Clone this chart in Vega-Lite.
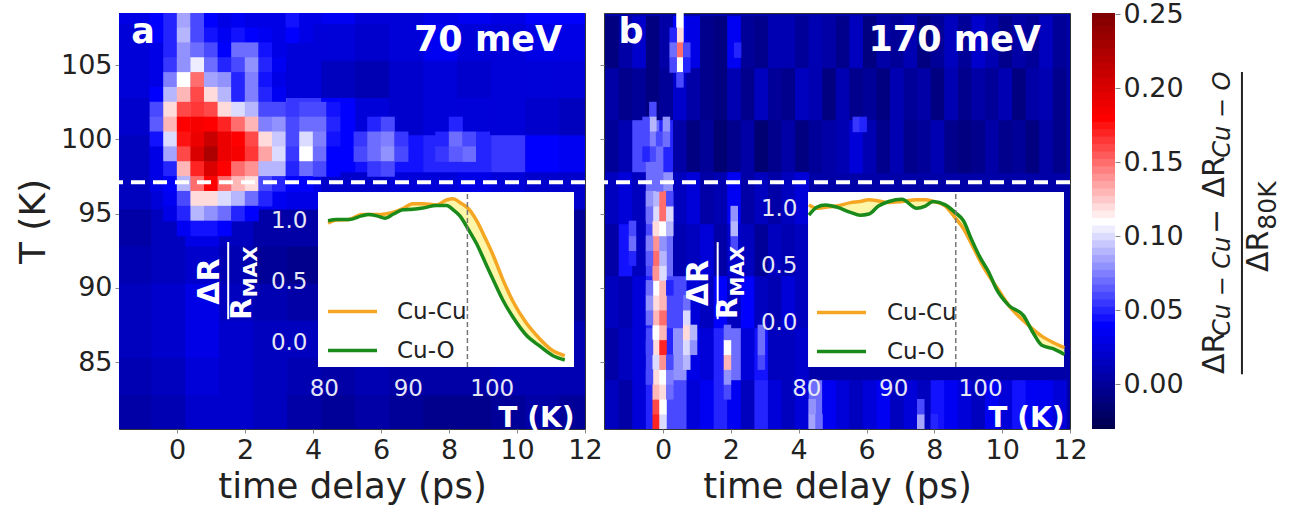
{"$schema":"https://vega.github.io/schema/vega-lite/v6.json","padding":{"left":14,"top":0,"right":0,"bottom":0},"background":"white","bounds":"flush","spacing":19,
"config":{"font":"DejaVu Sans","axis":{"labelFont":"DejaVu Sans","titleFont":"DejaVu Sans","grid":false,"titleFontWeight":"normal"},"view":{"stroke":null}},
"resolve":{"scale":{"stroke":"independent","color":"independent"},"legend":{"stroke":"independent"}},
"datasets":{
"coarseA":[
{"t":-1.25,"T":108.5,"v":0.03},{"t":-0.25,"T":108.5,"v":0.035},{"t":0.75,"T":108.5,"v":0.05},{"t":1.75,"T":108.5,"v":0.035},{"t":2.75,"T":108.5,"v":0.03},{"t":3.75,"T":108.5,"v":0.03},{"t":4.75,"T":108.5,"v":0.035},{"t":5.75,"T":108.5,"v":0.025},{"t":6.75,"T":108.5,"v":0.025},{"t":7.75,"T":108.5,"v":0.03},{"t":8.75,"T":108.5,"v":0.035},{"t":9.75,"T":108.5,"v":0.03},{"t":10.75,"T":108.5,"v":0.04},{"t":11.75,"T":108.5,"v":0.04},
{"t":-1.25,"T":106.5,"v":0.025},{"t":-0.25,"T":106.5,"v":0.025},{"t":0.75,"T":106.5,"v":0.05},{"t":1.75,"T":106.5,"v":0.05},{"t":2.75,"T":106.5,"v":0.03},{"t":3.75,"T":106.5,"v":0.025},{"t":4.75,"T":106.5,"v":0.025},{"t":5.75,"T":106.5,"v":0.02},{"t":6.75,"T":106.5,"v":0.025},{"t":7.75,"T":106.5,"v":0.035},{"t":8.75,"T":106.5,"v":0.025},{"t":9.75,"T":106.5,"v":0.025},{"t":10.75,"T":106.5,"v":0.03},{"t":11.75,"T":106.5,"v":0.03},
{"t":-1.25,"T":104,"v":0.025},{"t":-0.25,"T":104,"v":0.02},{"t":0.75,"T":104,"v":0.06},{"t":1.75,"T":104,"v":0.05},{"t":2.75,"T":104,"v":0.025},{"t":3.75,"T":104,"v":0.025},{"t":4.75,"T":104,"v":0.015},{"t":5.75,"T":104,"v":0.01},{"t":6.75,"T":104,"v":0.02},{"t":7.75,"T":104,"v":0.025},{"t":8.75,"T":104,"v":0.02},{"t":9.75,"T":104,"v":0.025},{"t":10.75,"T":104,"v":0.025},{"t":11.75,"T":104,"v":0.025},
{"t":-1.25,"T":101.5,"v":0.02},{"t":-0.25,"T":101.5,"v":0.04},{"t":0.75,"T":101.5,"v":0.1},{"t":1.75,"T":101.5,"v":0.1},{"t":2.75,"T":101.5,"v":0.06},{"t":3.75,"T":101.5,"v":0.055},{"t":4.75,"T":101.5,"v":0.04},{"t":5.75,"T":101.5,"v":0.025},{"t":6.75,"T":101.5,"v":0.02},{"t":7.75,"T":101.5,"v":0.025},{"t":8.75,"T":101.5,"v":0.025},{"t":9.75,"T":101.5,"v":0.025},{"t":10.75,"T":101.5,"v":0.02},{"t":11.75,"T":101.5,"v":0.015},
{"t":-1.25,"T":99,"v":0.015},{"t":-0.25,"T":99,"v":0.04},{"t":0.75,"T":99,"v":0.15},{"t":1.75,"T":99,"v":0.14},{"t":2.75,"T":99,"v":0.07},{"t":3.75,"T":99,"v":0.06},{"t":4.75,"T":99,"v":0.04},{"t":5.75,"T":99,"v":0.045},{"t":6.75,"T":99,"v":0.045},{"t":7.75,"T":99,"v":0.05},{"t":8.75,"T":99,"v":0.05},{"t":9.75,"T":99,"v":0.055},{"t":10.75,"T":99,"v":0.04},{"t":11.75,"T":99,"v":0.035},
{"t":-1.25,"T":96.5,"v":0.015},{"t":-0.25,"T":96.5,"v":0.025},{"t":0.75,"T":96.5,"v":0.07},{"t":1.75,"T":96.5,"v":0.06},{"t":2.75,"T":96.5,"v":0.035},{"t":3.75,"T":96.5,"v":0.03},{"t":4.75,"T":96.5,"v":0.02},{"t":5.75,"T":96.5,"v":0.02},{"t":6.75,"T":96.5,"v":0.025},{"t":7.75,"T":96.5,"v":0.025},{"t":8.75,"T":96.5,"v":0.03},{"t":9.75,"T":96.5,"v":0.025},{"t":10.75,"T":96.5,"v":0.02},{"t":11.75,"T":96.5,"v":0.02},
{"t":-1.25,"T":94,"v":0.005},{"t":-0.25,"T":94,"v":0.015},{"t":0.75,"T":94,"v":0.03},{"t":1.75,"T":94,"v":0.015},{"t":2.75,"T":94,"v":0.005},{"t":3.75,"T":94,"v":0.005},{"t":4.75,"T":94,"v":0.0},{"t":5.75,"T":94,"v":0.0},{"t":6.75,"T":94,"v":0.005},{"t":7.75,"T":94,"v":0.01},{"t":8.75,"T":94,"v":0.005},{"t":9.75,"T":94,"v":0.005},{"t":10.75,"T":94,"v":0.005},{"t":11.75,"T":94,"v":0.0},
{"t":-1.25,"T":91.5,"v":0.01},{"t":-0.25,"T":91.5,"v":0.015},{"t":0.75,"T":91.5,"v":0.02},{"t":1.75,"T":91.5,"v":0.01},{"t":2.75,"T":91.5,"v":0.0},{"t":3.75,"T":91.5,"v":-0.005},{"t":4.75,"T":91.5,"v":-0.005},{"t":5.75,"T":91.5,"v":0.0},{"t":6.75,"T":91.5,"v":0.0},{"t":7.75,"T":91.5,"v":0.0},{"t":8.75,"T":91.5,"v":0.005},{"t":9.75,"T":91.5,"v":0.005},{"t":10.75,"T":91.5,"v":0.0},{"t":11.75,"T":91.5,"v":0.0},
{"t":-1.25,"T":89,"v":0.015},{"t":-0.25,"T":89,"v":0.02},{"t":0.75,"T":89,"v":0.03},{"t":1.75,"T":89,"v":0.015},{"t":2.75,"T":89,"v":0.01},{"t":3.75,"T":89,"v":0.005},{"t":4.75,"T":89,"v":0.005},{"t":5.75,"T":89,"v":0.0},{"t":6.75,"T":89,"v":0.0},{"t":7.75,"T":89,"v":0.0},{"t":8.75,"T":89,"v":0.0},{"t":9.75,"T":89,"v":0.0},{"t":10.75,"T":89,"v":0.0},{"t":11.75,"T":89,"v":0.0},
{"t":-1.25,"T":86.5,"v":0.015},{"t":-0.25,"T":86.5,"v":0.02},{"t":0.75,"T":86.5,"v":0.03},{"t":1.75,"T":86.5,"v":0.02},{"t":2.75,"T":86.5,"v":0.015},{"t":3.75,"T":86.5,"v":0.015},{"t":4.75,"T":86.5,"v":0.01},{"t":5.75,"T":86.5,"v":0.01},{"t":6.75,"T":86.5,"v":0.01},{"t":7.75,"T":86.5,"v":0.01},{"t":8.75,"T":86.5,"v":0.01},{"t":9.75,"T":86.5,"v":0.01},{"t":10.75,"T":86.5,"v":0.01},{"t":11.75,"T":86.5,"v":0.01},
{"t":-1.25,"T":84,"v":0.01},{"t":-0.25,"T":84,"v":0.015},{"t":0.75,"T":84,"v":0.025},{"t":1.75,"T":84,"v":0.02},{"t":2.75,"T":84,"v":0.015},{"t":3.75,"T":84,"v":0.01},{"t":4.75,"T":84,"v":0.005},{"t":5.75,"T":84,"v":0.01},{"t":6.75,"T":84,"v":0.005},{"t":7.75,"T":84,"v":0.005},{"t":8.75,"T":84,"v":0.005},{"t":9.75,"T":84,"v":0.01},{"t":10.75,"T":84,"v":0.01},{"t":11.75,"T":84,"v":0.01},
{"t":-1.25,"T":81.5,"v":0.005},{"t":-0.25,"T":81.5,"v":0.01},{"t":0.75,"T":81.5,"v":0.02},{"t":1.75,"T":81.5,"v":0.02},{"t":2.75,"T":81.5,"v":0.015},{"t":3.75,"T":81.5,"v":0.005},{"t":4.75,"T":81.5,"v":0.0},{"t":5.75,"T":81.5,"v":0.005},{"t":6.75,"T":81.5,"v":0.0},{"t":7.75,"T":81.5,"v":-0.005},{"t":8.75,"T":81.5,"v":-0.005},{"t":9.75,"T":81.5,"v":0.0},{"t":10.75,"T":81.5,"v":0.005},{"t":11.75,"T":81.5,"v":0.0}
],
"fineA":[
{"t":-0.6,"T":108,"v":0.04},{"t":-0.2,"T":108,"v":0.05},{"t":0.2,"T":108,"v":0.085},{"t":0.6,"T":108,"v":0.06},{"t":1,"T":108,"v":0.04},{"t":1.4,"T":108,"v":0.03},{"t":1.8,"T":108,"v":0.035},{"t":2.2,"T":108,"v":0.03},{"t":2.6,"T":108,"v":0.03},{"t":3,"T":108,"v":0.03},{"t":3.4,"T":108,"v":0.045},{"t":3.8,"T":108,"v":0.03},
{"t":-0.6,"T":107,"v":0.04},{"t":-0.2,"T":107,"v":0.05},{"t":0.2,"T":107,"v":0.09},{"t":0.6,"T":107,"v":0.06},{"t":1,"T":107,"v":0.045},{"t":1.4,"T":107,"v":0.035},{"t":1.8,"T":107,"v":0.045},{"t":2.2,"T":107,"v":0.04},{"t":2.6,"T":107,"v":0.035},{"t":3,"T":107,"v":0.03},{"t":3.4,"T":107,"v":0.04},{"t":3.8,"T":107,"v":0.03},
{"t":-0.6,"T":106,"v":0.03},{"t":-0.2,"T":106,"v":0.05},{"t":0.2,"T":106,"v":0.08},{"t":0.6,"T":106,"v":0.07},{"t":1,"T":106,"v":0.06},{"t":1.4,"T":106,"v":0.04},{"t":1.8,"T":106,"v":0.07},{"t":2.2,"T":106,"v":0.07},{"t":2.6,"T":106,"v":0.045},{"t":3,"T":106,"v":0.03},
{"t":-0.6,"T":105,"v":0.03},{"t":-0.2,"T":105,"v":0.055},{"t":0.2,"T":105,"v":0.08},{"t":0.6,"T":105,"v":0.105},{"t":1,"T":105,"v":0.07},{"t":1.4,"T":105,"v":0.05},{"t":1.8,"T":105,"v":0.06},{"t":2.2,"T":105,"v":0.08},{"t":2.6,"T":105,"v":0.05},{"t":3,"T":105,"v":0.035},
{"t":-0.6,"T":104,"v":0.03},{"t":-0.2,"T":104,"v":0.075},{"t":0.2,"T":104,"v":0.11},{"t":0.6,"T":104,"v":0.15},{"t":1,"T":104,"v":0.085},{"t":1.4,"T":104,"v":0.08},{"t":1.8,"T":104,"v":0.05},{"t":2.2,"T":104,"v":0.075},{"t":2.6,"T":104,"v":0.045},{"t":3,"T":104,"v":0.03},
{"t":-0.6,"T":103,"v":0.04},{"t":-0.2,"T":103,"v":0.09},{"t":0.2,"T":103,"v":0.13},{"t":0.6,"T":103,"v":0.16},{"t":1,"T":103,"v":0.12},{"t":1.4,"T":103,"v":0.09},{"t":1.8,"T":103,"v":0.05},{"t":2.2,"T":103,"v":0.075},{"t":2.6,"T":103,"v":0.05},{"t":3,"T":103,"v":0.035},
{"t":-0.6,"T":102,"v":0.06},{"t":-0.2,"T":102,"v":0.12},{"t":0.2,"T":102,"v":0.16},{"t":0.6,"T":102,"v":0.165},{"t":1,"T":102,"v":0.16},{"t":1.4,"T":102,"v":0.12},{"t":1.8,"T":102,"v":0.1},{"t":2.2,"T":102,"v":0.09},{"t":2.6,"T":102,"v":0.06},{"t":3,"T":102,"v":0.06},{"t":3.4,"T":102,"v":0.055},{"t":3.8,"T":102,"v":0.06},{"t":4.2,"T":102,"v":0.06},{"t":4.6,"T":102,"v":0.045},
{"t":-0.6,"T":101,"v":0.065},{"t":-0.2,"T":101,"v":0.13},{"t":0.2,"T":101,"v":0.18},{"t":0.6,"T":101,"v":0.185},{"t":1,"T":101,"v":0.18},{"t":1.4,"T":101,"v":0.17},{"t":1.8,"T":101,"v":0.15},{"t":2.2,"T":101,"v":0.13},{"t":2.6,"T":101,"v":0.075},{"t":3,"T":101,"v":0.08},{"t":3.4,"T":101,"v":0.06},{"t":3.8,"T":101,"v":0.07},{"t":4.2,"T":101,"v":0.07},{"t":4.6,"T":101,"v":0.05},
{"t":-0.6,"T":100,"v":0.045},{"t":-0.2,"T":100,"v":0.1},{"t":0.2,"T":100,"v":0.175},{"t":0.6,"T":100,"v":0.19},{"t":1,"T":100,"v":0.21},{"t":1.4,"T":100,"v":0.19},{"t":1.8,"T":100,"v":0.18},{"t":2.2,"T":100,"v":0.16},{"t":2.6,"T":100,"v":0.12},{"t":3,"T":100,"v":0.095},{"t":3.4,"T":100,"v":0.06},{"t":3.8,"T":100,"v":0.1},{"t":4.2,"T":100,"v":0.075},{"t":4.6,"T":100,"v":0.045},
{"t":-0.6,"T":99,"v":0.03},{"t":-0.2,"T":99,"v":0.085},{"t":0.2,"T":99,"v":0.16},{"t":0.6,"T":99,"v":0.2},{"t":1,"T":99,"v":0.225},{"t":1.4,"T":99,"v":0.19},{"t":1.8,"T":99,"v":0.185},{"t":2.2,"T":99,"v":0.165},{"t":2.6,"T":99,"v":0.135},{"t":3,"T":99,"v":0.1},{"t":3.4,"T":99,"v":0.055},{"t":3.8,"T":99,"v":0.11},{"t":4.2,"T":99,"v":0.07},{"t":4.6,"T":99,"v":0.04},
{"t":-0.6,"T":98,"v":0.03},{"t":-0.2,"T":98,"v":0.05},{"t":0.2,"T":98,"v":0.13},{"t":0.6,"T":98,"v":0.17},{"t":1,"T":98,"v":0.2},{"t":1.4,"T":98,"v":0.18},{"t":1.8,"T":98,"v":0.15},{"t":2.2,"T":98,"v":0.14},{"t":2.6,"T":98,"v":0.09},{"t":3,"T":98,"v":0.09},{"t":3.4,"T":98,"v":0.05},{"t":3.8,"T":98,"v":0.07},{"t":4.2,"T":98,"v":0.06},{"t":4.6,"T":98,"v":0.04},
{"t":-0.6,"T":97,"v":0.03},{"t":-0.2,"T":97,"v":0.04},{"t":0.2,"T":97,"v":0.09},{"t":0.6,"T":97,"v":0.15},{"t":1,"T":97,"v":0.18},{"t":1.4,"T":97,"v":0.15},{"t":1.8,"T":97,"v":0.13},{"t":2.2,"T":97,"v":0.12},{"t":2.6,"T":97,"v":0.06},{"t":3,"T":97,"v":0.05},{"t":3.4,"T":97,"v":0.04},{"t":3.8,"T":97,"v":0.04},
{"t":-0.2,"T":96,"v":0.035},{"t":0.2,"T":96,"v":0.06},{"t":0.6,"T":96,"v":0.12},{"t":1,"T":96,"v":0.12},{"t":1.4,"T":96,"v":0.1},{"t":1.8,"T":96,"v":0.09},{"t":2.2,"T":96,"v":0.07},{"t":2.6,"T":96,"v":0.05},
{"t":-0.2,"T":95,"v":0.03},{"t":0.2,"T":95,"v":0.05},{"t":0.6,"T":95,"v":0.09},{"t":1,"T":95,"v":0.08},{"t":1.4,"T":95,"v":0.07},{"t":1.8,"T":95,"v":0.05},{"t":2.2,"T":95,"v":0.04},
{"t":0.2,"T":94,"v":0.035},{"t":0.6,"T":94,"v":0.045},{"t":1,"T":94,"v":0.045},{"t":1.4,"T":94,"v":0.04},
{"t":5.4,"T":100,"v":0.055},{"t":5.4,"T":99,"v":0.06},{"t":5.8,"T":101,"v":0.05},{"t":5.8,"T":100,"v":0.07},{"t":5.8,"T":99,"v":0.07},{"t":5.8,"T":98,"v":0.055},{"t":6.2,"T":101,"v":0.06},{"t":6.2,"T":100,"v":0.075},{"t":6.2,"T":99,"v":0.08},{"t":6.2,"T":98,"v":0.06},{"t":6.6,"T":100,"v":0.055},{"t":6.6,"T":99,"v":0.06},{"t":7.8,"T":100,"v":0.05},{"t":7.8,"T":99,"v":0.055},{"t":8.2,"T":101,"v":0.05},{"t":8.2,"T":100,"v":0.07},{"t":8.2,"T":99,"v":0.065},{"t":8.6,"T":100,"v":0.06},{"t":8.6,"T":99,"v":0.07},{"t":9,"T":100,"v":0.05},{"t":9,"T":99,"v":0.05}
],
"coarseB":[
{"t":-1.5,"T":106.5,"v":-0.01},{"t":-1.1,"T":106.5,"v":0.005},{"t":-0.7,"T":106.5,"v":0.02},{"t":-0.3,"T":106.5,"v":-0.01},{"t":0.1,"T":106.5,"v":0.005},{"t":0.5,"T":106.5,"v":0.04},{"t":0.9,"T":106.5,"v":0.03},{"t":1.3,"T":106.5,"v":-0.005},{"t":1.7,"T":106.5,"v":-0.01},{"t":2.1,"T":106.5,"v":0.035},{"t":2.5,"T":106.5,"v":0.0},{"t":2.9,"T":106.5,"v":-0.005},{"t":3.3,"T":106.5,"v":0.01},{"t":3.7,"T":106.5,"v":0.01},{"t":4.1,"T":106.5,"v":0.0},{"t":4.5,"T":106.5,"v":0.01},{"t":4.9,"T":106.5,"v":0.005},{"t":5.3,"T":106.5,"v":-0.005},{"t":5.7,"T":106.5,"v":0.015},{"t":6.1,"T":106.5,"v":-0.01},{"t":6.5,"T":106.5,"v":0.005},{"t":6.9,"T":106.5,"v":0.0},{"t":7.3,"T":106.5,"v":0.01},{"t":7.7,"T":106.5,"v":-0.01},{"t":8.1,"T":106.5,"v":0.0},{"t":8.5,"T":106.5,"v":0.015},{"t":8.9,"T":106.5,"v":0.0},{"t":9.3,"T":106.5,"v":0.02},{"t":9.7,"T":106.5,"v":0.01},{"t":10.1,"T":106.5,"v":-0.005},{"t":10.5,"T":106.5,"v":0.005},{"t":10.9,"T":106.5,"v":0.0},{"t":11.3,"T":106.5,"v":0.015},{"t":11.7,"T":106.5,"v":0.0},
{"t":-1.5,"T":103,"v":0.005},{"t":-1.1,"T":103,"v":-0.005},{"t":-0.7,"T":103,"v":0.0},{"t":-0.3,"T":103,"v":-0.01},{"t":0.1,"T":103,"v":0.0},{"t":0.5,"T":103,"v":0.02},{"t":0.9,"T":103,"v":0.005},{"t":1.3,"T":103,"v":-0.005},{"t":1.7,"T":103,"v":-0.01},{"t":2.1,"T":103,"v":0.01},{"t":2.5,"T":103,"v":-0.005},{"t":2.9,"T":103,"v":0.015},{"t":3.3,"T":103,"v":0.0},{"t":3.7,"T":103,"v":-0.005},{"t":4.1,"T":103,"v":0.015},{"t":4.5,"T":103,"v":0.01},{"t":4.9,"T":103,"v":-0.01},{"t":5.3,"T":103,"v":0.01},{"t":5.7,"T":103,"v":-0.005},{"t":6.1,"T":103,"v":0.0},{"t":6.5,"T":103,"v":-0.01},{"t":6.9,"T":103,"v":0.01},{"t":7.3,"T":103,"v":0.0},{"t":7.7,"T":103,"v":0.005},{"t":8.1,"T":103,"v":-0.01},{"t":8.5,"T":103,"v":0.01},{"t":8.9,"T":103,"v":-0.005},{"t":9.3,"T":103,"v":0.005},{"t":9.7,"T":103,"v":0.0},{"t":10.1,"T":103,"v":0.01},{"t":10.5,"T":103,"v":-0.01},{"t":10.9,"T":103,"v":0.005},{"t":11.3,"T":103,"v":0.01},{"t":11.7,"T":103,"v":-0.005},
{"t":-1.5,"T":99.5,"v":0.0},{"t":-1.1,"T":99.5,"v":0.01},{"t":-0.7,"T":99.5,"v":0.06},{"t":-0.3,"T":99.5,"v":0.07},{"t":0.1,"T":99.5,"v":0.05},{"t":0.5,"T":99.5,"v":0.005},{"t":0.9,"T":99.5,"v":-0.01},{"t":1.3,"T":99.5,"v":0.0},{"t":1.7,"T":99.5,"v":-0.015},{"t":2.1,"T":99.5,"v":-0.005},{"t":2.5,"T":99.5,"v":0.005},{"t":2.9,"T":99.5,"v":-0.015},{"t":3.3,"T":99.5,"v":-0.005},{"t":3.7,"T":99.5,"v":0.005},{"t":4.1,"T":99.5,"v":-0.01},{"t":4.5,"T":99.5,"v":0.0},{"t":4.9,"T":99.5,"v":0.005},{"t":5.3,"T":99.5,"v":0.01},{"t":5.7,"T":99.5,"v":0.025},{"t":6.1,"T":99.5,"v":0.01},{"t":6.5,"T":99.5,"v":-0.005},{"t":6.9,"T":99.5,"v":0.01},{"t":7.3,"T":99.5,"v":-0.005},{"t":7.7,"T":99.5,"v":0.0},{"t":8.1,"T":99.5,"v":0.01},{"t":8.5,"T":99.5,"v":-0.005},{"t":8.9,"T":99.5,"v":-0.01},{"t":9.3,"T":99.5,"v":-0.005},{"t":9.7,"T":99.5,"v":0.005},{"t":10.1,"T":99.5,"v":-0.005},{"t":10.5,"T":99.5,"v":0.0},{"t":10.9,"T":99.5,"v":-0.01},{"t":11.3,"T":99.5,"v":0.005},{"t":11.7,"T":99.5,"v":-0.005},
{"t":-1.5,"T":96,"v":0.015},{"t":-1.1,"T":96,"v":0.025},{"t":-0.7,"T":96,"v":0.015},{"t":-0.3,"T":96,"v":0.07},{"t":0.1,"T":96,"v":0.08},{"t":0.5,"T":96,"v":0.015},{"t":0.9,"T":96,"v":0.025},{"t":1.3,"T":96,"v":0.005},{"t":1.7,"T":96,"v":0.01},{"t":2.1,"T":96,"v":0.035},{"t":2.5,"T":96,"v":0.005},{"t":2.9,"T":96,"v":0.015},{"t":3.3,"T":96,"v":0.005},{"t":3.7,"T":96,"v":0.015},{"t":4.1,"T":96,"v":0.025},
{"t":-1.5,"T":92.5,"v":0.005},{"t":-1.1,"T":92.5,"v":0.045},{"t":-0.7,"T":92.5,"v":0.015},{"t":-0.3,"T":92.5,"v":0.06},{"t":0.1,"T":92.5,"v":0.07},{"t":0.5,"T":92.5,"v":0.01},{"t":0.9,"T":92.5,"v":0.015},{"t":1.3,"T":92.5,"v":0.025},{"t":1.7,"T":92.5,"v":0.005},{"t":2.1,"T":92.5,"v":0.02},{"t":2.5,"T":92.5,"v":0.015},{"t":2.9,"T":92.5,"v":0.0},{"t":3.3,"T":92.5,"v":0.015},{"t":3.7,"T":92.5,"v":0.01},{"t":4.1,"T":92.5,"v":0.015},
{"t":-1.5,"T":89,"v":0.015},{"t":-1.1,"T":89,"v":0.01},{"t":-0.7,"T":89,"v":0.025},{"t":-0.3,"T":89,"v":0.05},{"t":0.1,"T":89,"v":0.06},{"t":0.5,"T":89,"v":0.06},{"t":0.9,"T":89,"v":0.025},{"t":1.3,"T":89,"v":0.015},{"t":1.7,"T":89,"v":0.04},{"t":2.1,"T":89,"v":0.015},{"t":2.5,"T":89,"v":0.04},{"t":2.9,"T":89,"v":0.015},{"t":3.3,"T":89,"v":0.01},{"t":3.7,"T":89,"v":0.025},{"t":4.1,"T":89,"v":0.015},
{"t":-1.5,"T":85.5,"v":0.005},{"t":-1.1,"T":85.5,"v":0.015},{"t":-0.7,"T":85.5,"v":0.025},{"t":-0.3,"T":85.5,"v":0.06},{"t":0.1,"T":85.5,"v":0.05},{"t":0.5,"T":85.5,"v":0.08},{"t":0.9,"T":85.5,"v":0.03},{"t":1.3,"T":85.5,"v":0.025},{"t":1.7,"T":85.5,"v":0.05},{"t":2.1,"T":85.5,"v":0.07},{"t":2.5,"T":85.5,"v":0.025},{"t":2.9,"T":85.5,"v":0.045},{"t":3.3,"T":85.5,"v":0.015},{"t":3.7,"T":85.5,"v":0.015},{"t":4.1,"T":85.5,"v":0.02},
{"t":-1.5,"T":82,"v":0.015},{"t":-1.1,"T":82,"v":0.005},{"t":-0.7,"T":82,"v":0.025},{"t":-0.3,"T":82,"v":0.05},{"t":0.1,"T":82,"v":0.06},{"t":0.5,"T":82,"v":0.06},{"t":0.9,"T":82,"v":0.025},{"t":1.3,"T":82,"v":0.035},{"t":1.7,"T":82,"v":0.05},{"t":2.1,"T":82,"v":0.035},{"t":2.5,"T":82,"v":0.015},{"t":2.9,"T":82,"v":0.05},{"t":3.3,"T":82,"v":0.025},{"t":3.7,"T":82,"v":0.015},{"t":4.1,"T":82,"v":0.025},{"t":4.5,"T":82,"v":0.07},{"t":4.9,"T":82,"v":0.035},{"t":5.3,"T":82,"v":0.025},{"t":5.7,"T":82,"v":0.015},{"t":6.1,"T":82,"v":0.025},{"t":6.5,"T":82,"v":0.035},{"t":6.9,"T":82,"v":0.015},{"t":7.3,"T":82,"v":0.025},{"t":7.7,"T":82,"v":0.015},{"t":8.1,"T":82,"v":0.045},{"t":8.5,"T":82,"v":0.035},{"t":8.9,"T":82,"v":0.025},{"t":9.3,"T":82,"v":0.015},{"t":9.7,"T":82,"v":0.035},{"t":10.1,"T":82,"v":0.025},{"t":10.5,"T":82,"v":0.045},{"t":10.9,"T":82,"v":0.035},{"t":11.3,"T":82,"v":0.035},{"t":11.7,"T":82,"v":0.025}
],
"fineB":[
{"t":-0.2,"T":81,"v":0.17},{"t":-0.2,"T":82,"v":0.16},{"t":-0.2,"T":83,"v":0.13},{"t":-0.2,"T":84,"v":0.12},{"t":-0.2,"T":85,"v":0.1},{"t":-0.2,"T":86,"v":0.12},{"t":-0.2,"T":87,"v":0.11},{"t":-0.2,"T":88,"v":0.13},{"t":-0.2,"T":89,"v":0.12},{"t":-0.2,"T":90,"v":0.11},{"t":-0.2,"T":91,"v":0.14},{"t":-0.2,"T":92,"v":0.15},{"t":-0.2,"T":93,"v":0.14},{"t":-0.2,"T":94,"v":0.12},{"t":-0.2,"T":95,"v":0.1},{"t":-0.2,"T":96,"v":0.09},
{"t":0,"T":81,"v":0.1},{"t":0,"T":82,"v":0.11},{"t":0,"T":83,"v":0.12},{"t":0,"T":84,"v":0.11},{"t":0,"T":85,"v":0.14},{"t":0,"T":86,"v":0.17},{"t":0,"T":87,"v":0.13},{"t":0,"T":88,"v":0.15},{"t":0,"T":89,"v":0.13},{"t":0,"T":90,"v":0.13},{"t":0,"T":91,"v":0.1},{"t":0,"T":92,"v":0.09},{"t":0,"T":93,"v":0.08},{"t":0,"T":94,"v":0.11},{"t":0,"T":95,"v":0.15},{"t":0,"T":96,"v":0.15},
{"t":-0.4,"T":84,"v":0.06},{"t":-0.4,"T":86,"v":0.06},{"t":-0.4,"T":88,"v":0.07},{"t":-0.4,"T":89,"v":0.08},{"t":-0.4,"T":90,"v":0.07},{"t":-0.4,"T":92,"v":0.065},{"t":-0.4,"T":93,"v":0.075},{"t":-0.4,"T":95,"v":0.07},{"t":-0.4,"T":96,"v":0.08},
{"t":0.2,"T":83,"v":0.07},{"t":0.2,"T":84,"v":0.075},{"t":0.2,"T":85,"v":0.06},{"t":0.2,"T":90,"v":0.05},{"t":0.2,"T":94,"v":0.09},{"t":0.2,"T":95,"v":0.1},{"t":0.2,"T":96,"v":0.06},
{"t":0.7,"T":85,"v":0.09},{"t":0.7,"T":86,"v":0.1},{"t":0.7,"T":87,"v":0.12},{"t":0.7,"T":88,"v":0.1},{"t":0.7,"T":89,"v":0.07},{"t":0.9,"T":86,"v":0.08},{"t":0.9,"T":87,"v":0.09},
{"t":1.9,"T":83,"v":0.06},{"t":1.9,"T":84,"v":0.08},{"t":1.9,"T":85,"v":0.13},{"t":1.9,"T":86,"v":0.11},{"t":1.9,"T":87,"v":0.07},
{"t":2.1,"T":93,"v":0.06},{"t":2.1,"T":94,"v":0.09},{"t":2.1,"T":95,"v":0.08},
{"t":2.9,"T":85,"v":0.06},{"t":2.9,"T":86,"v":0.07},{"t":2.9,"T":87,"v":0.07},
{"t":-0.9,"T":92,"v":0.05},{"t":-0.9,"T":93,"v":0.07},{"t":-0.9,"T":94,"v":0.06},
{"t":0.5,"T":108,"v":0.11},{"t":0.5,"T":107,"v":0.12},{"t":0.5,"T":106,"v":0.15},{"t":0.5,"T":105,"v":0.11},{"t":0.5,"T":104,"v":0.06},
{"t":0.3,"T":107,"v":0.05},{"t":0.3,"T":106,"v":0.07},{"t":0.3,"T":105,"v":0.06},{"t":0.7,"T":106,"v":0.06},{"t":0.7,"T":105,"v":0.05},
{"t":-0.3,"T":102,"v":0.06},{"t":-0.3,"T":101,"v":0.09},{"t":-0.3,"T":100,"v":0.075},{"t":-0.3,"T":99,"v":0.06},{"t":-0.5,"T":101,"v":0.06},{"t":-0.5,"T":100,"v":0.06},{"t":-0.5,"T":99,"v":0.05},
{"t":-0.1,"T":100,"v":0.06},{"t":-0.1,"T":99,"v":0.07},{"t":-0.1,"T":98,"v":0.07},{"t":-0.1,"T":97,"v":0.07},{"t":0.1,"T":101,"v":0.08},{"t":0.1,"T":100,"v":0.07},
{"t":5.7,"T":101,"v":0.055},{"t":5.9,"T":101,"v":0.05},{"t":2.2,"T":106,"v":0.05},
{"t":4.4,"T":81,"v":0.085},{"t":4.4,"T":82,"v":0.08},{"t":4.6,"T":81,"v":0.07},{"t":7.6,"T":81,"v":0.085},{"t":7.6,"T":82,"v":0.06},{"t":8,"T":81,"v":0.05}
],
"bar":[{"v":-0.03},{"v":-0.025},{"v":-0.02},{"v":-0.015},{"v":-0.01},{"v":-0.005},{"v":0.0},{"v":0.005},{"v":0.01},{"v":0.015},{"v":0.02},{"v":0.025},{"v":0.03},{"v":0.035},{"v":0.04},{"v":0.045},{"v":0.05},{"v":0.055},{"v":0.06},{"v":0.065},{"v":0.07},{"v":0.075},{"v":0.08},{"v":0.085},{"v":0.09},{"v":0.095},{"v":0.1},{"v":0.105},{"v":0.11},{"v":0.115},{"v":0.12},{"v":0.125},{"v":0.13},{"v":0.135},{"v":0.14},{"v":0.145},{"v":0.15},{"v":0.155},{"v":0.16},{"v":0.165},{"v":0.17},{"v":0.175},{"v":0.18},{"v":0.185},{"v":0.19},{"v":0.195},{"v":0.2},{"v":0.205},{"v":0.21},{"v":0.215},{"v":0.22},{"v":0.225},{"v":0.23},{"v":0.235},{"v":0.24},{"v":0.245},{"v":0.25}],
"curveA":[{"T":80.5,"Cu-Cu":0.98,"Cu-O":1.0},{"T":81.5,"Cu-Cu":1.005,"Cu-O":1.01},{"T":83,"Cu-Cu":1.01,"Cu-O":1.01},{"T":84.5,"Cu-Cu":1.05,"Cu-O":1.04},{"T":85.3,"Cu-Cu":1.05,"Cu-O":1.05},{"T":86.3,"Cu-Cu":1.05,"Cu-O":1.04},{"T":87.3,"Cu-Cu":1.055,"Cu-O":1.02},{"T":88.3,"Cu-Cu":1.07,"Cu-O":1.055},{"T":89.4,"Cu-Cu":1.1,"Cu-O":1.09},{"T":90.6,"Cu-Cu":1.14,"Cu-O":1.095},{"T":91.8,"Cu-Cu":1.14,"Cu-O":1.105},{"T":93.4,"Cu-Cu":1.13,"Cu-O":1.125},{"T":94.6,"Cu-Cu":1.17,"Cu-O":1.125},{"T":95.4,"Cu-Cu":1.18,"Cu-O":1.09},{"T":96.2,"Cu-Cu":1.15,"Cu-O":1.04},{"T":97.2,"Cu-Cu":1.1,"Cu-O":0.93},{"T":98.2,"Cu-Cu":1.0,"Cu-O":0.81},{"T":99.2,"Cu-Cu":0.86,"Cu-O":0.66},{"T":100.2,"Cu-Cu":0.71,"Cu-O":0.51},{"T":101.3,"Cu-Cu":0.52,"Cu-O":0.35},{"T":102.5,"Cu-Cu":0.34,"Cu-O":0.21},{"T":104.1,"Cu-Cu":0.16,"Cu-O":0.06},{"T":105.7,"Cu-Cu":0.03,"Cu-O":-0.03},{"T":107.3,"Cu-Cu":-0.07,"Cu-O":-0.11},{"T":108.7,"Cu-Cu":-0.11,"Cu-O":-0.145}],
"curveB":[{"T":80.3,"Cu-Cu":1.03,"Cu-O":0.94},{"T":81.2,"Cu-Cu":1.0,"Cu-O":1.01},{"T":82.2,"Cu-Cu":1.01,"Cu-O":1.03},{"T":83.5,"Cu-Cu":1.02,"Cu-O":1.01},{"T":85.1,"Cu-Cu":1.05,"Cu-O":0.965},{"T":86.2,"Cu-Cu":1.06,"Cu-O":0.94},{"T":87.2,"Cu-Cu":1.075,"Cu-O":0.95},{"T":88.3,"Cu-Cu":1.065,"Cu-O":1.02},{"T":89.5,"Cu-Cu":1.05,"Cu-O":1.06},{"T":91,"Cu-Cu":1.06,"Cu-O":1.08},{"T":92.7,"Cu-Cu":1.075,"Cu-O":1.0},{"T":93.7,"Cu-Cu":1.075,"Cu-O":1.02},{"T":94.6,"Cu-Cu":1.06,"Cu-O":1.06},{"T":96,"Cu-Cu":1.02,"Cu-O":1.03},{"T":97.1,"Cu-Cu":0.92,"Cu-O":0.965},{"T":98.1,"Cu-Cu":0.82,"Cu-O":0.89},{"T":99,"Cu-Cu":0.69,"Cu-O":0.73},{"T":100,"Cu-Cu":0.54,"Cu-O":0.57},{"T":101,"Cu-Cu":0.41,"Cu-O":0.44},{"T":101.9,"Cu-Cu":0.31,"Cu-O":0.29},{"T":103.3,"Cu-Cu":0.15,"Cu-O":0.15},{"T":105,"Cu-Cu":0.015,"Cu-O":0.06},{"T":106.1,"Cu-Cu":-0.06,"Cu-O":-0.09},{"T":107.1,"Cu-Cu":-0.12,"Cu-O":-0.2},{"T":108.4,"Cu-Cu":-0.175,"Cu-O":-0.23},{"T":109.7,"Cu-Cu":-0.22,"Cu-O":-0.28}]
},
"hconcat":[
{"width":466,"height":416,"view":{"fill":"#0000b0","stroke":"#333333"},
"resolve":{"scale":{"x":"independent","y":"independent"},"axis":{"x":"independent","y":"independent"}},
"layer":[
{"layer":[
{"data":{"name":"coarseA"},"mark":{"type":"rect","width":34.5,"height":38,"clip":true},
"encoding":{"x":{"field":"t","type":"quantitative","scale":{"domain":[-1.706,12],"nice":false,"zero":false},"axis":{"values":[0,2,4,6,8,10,12],"title":"time delay (ps)","labelFontSize":27,"titleFontSize":35.5,"labelColor":"#222222","titleColor":"#222222","tickSize":4,"labelPadding":4,"titlePadding":6,"domain":false,"labelFlush":false}},
"y":{"field":"T","type":"quantitative","scale":{"domain":[80.5,108.5],"nice":false,"zero":false},"axis":{"values":[85,90,95,100,105],"title":"T (K)","labelFontSize":27,"titleFontSize":36,"labelColor":"#222222","titleColor":"#222222","tickSize":4,"labelPadding":3,"titlePadding":8,"domain":false}},
"color":{"field":"v","type":"quantitative","legend":null,"scale":{"domain":[-0.03,0.04,0.11,0.18,0.25],"range":["#00004d","#0000ff","#ffffff","#ff0000","#800000"],"interpolate":"rgb"}}}},
{"data":{"name":"fineA"},"mark":{"type":"rect","width":14,"height":15.5,"clip":true},
"encoding":{"x":{"field":"t","type":"quantitative"},"y":{"field":"T","type":"quantitative"},"color":{"field":"v","type":"quantitative","legend":null,"scale":{"domain":[-0.03,0.04,0.11,0.18,0.25],"range":["#00004d","#0000ff","#ffffff","#ff0000","#800000"],"interpolate":"rgb"}}}},
{"data":{"values":[{"T":97.1}]},"mark":{"type":"rule","color":"white","strokeWidth":4,"strokeDash":[14,8]},"encoding":{"y":{"field":"T","type":"quantitative"}}},
{"data":{"values":[{"t":-1.0,"T":107.25,"label":"a"},{"t":9.15,"T":106.65,"label":"70 meV"}]},"mark":{"type":"text","color":"white","fontWeight":"bold","fontSize":35},"encoding":{"x":{"field":"t","type":"quantitative"},"y":{"field":"T","type":"quantitative"},"text":{"field":"label"}}}
]},
{"layer":[
{"data":{"values":[{"x0":79.3,"x1":109.8,"y0":-0.203,"y1":1.236}]},"mark":{"type":"rect","color":"white"},"encoding":{
"x":{"field":"x0","type":"quantitative","scale":{"domain":[79.3,109.8],"range":[199,455],"nice":false,"zero":false},"axis":{"values":[80,90,100],"orient":"bottom","offset":-62,"zindex":1,"domain":false,"ticks":false,"labelFontSize":23,"labelColor":"#e6e6f5","labelPadding":10,"title":"T (K)","titleColor":"white","titleFontSize":28,"titleFontWeight":"bold","titleAnchor":"end","titlePadding":4,"labelFlush":false}},"x2":{"field":"x1"},
"y":{"field":"y0","type":"quantitative","scale":{"domain":[-0.203,1.236],"range":[354,179],"nice":false,"zero":false},"axis":{"values":[0,0.5,1],"format":".1f","orient":"left","offset":-199,"zindex":1,"domain":false,"ticks":false,"labelFontSize":23,"labelColor":"#e6e6f5","labelPadding":11,"title":null}},"y2":{"field":"y1"}}},
{"data":{"name":"curveA"},"mark":{"type":"area","color":"#fdf5a8","interpolate":"monotone"},"encoding":{"x":{"field":"T","type":"quantitative"},"y":{"field":"Cu-Cu","type":"quantitative"},"y2":{"field":"Cu-O"}}},
{"data":{"name":"curveA"},"transform":[{"fold":["Cu-Cu","Cu-O"],"as":["s","v"]}],"mark":{"type":"line","strokeWidth":3.5,"interpolate":"monotone"},"encoding":{"x":{"field":"T","type":"quantitative"},"y":{"field":"v","type":"quantitative"},"stroke":{"field":"s","type":"nominal","scale":{"domain":["Cu-Cu","Cu-O"],"range":["#f5a623","#1a8a1a"]},"legend":{"title":null,"orient":"none","legendX":207,"legendY":272,"padding":0,"symbolSize":2401,"symbolStrokeWidth":3.5,"labelFontSize":23,"labelColor":"#222222","labelOffset":18,"rowPadding":-2}}}},
{"data":{"values":[{"T":97.1,"a":-0.203,"b":1.236}]},"mark":{"type":"rule","color":"#777777","strokeWidth":1.5,"strokeDash":[5,3]},"encoding":{"x":{"field":"T","type":"quantitative"},"y":{"field":"a","type":"quantitative"},"y2":{"field":"b"}}},
{"data":{"values":[{"T":66.4,"v":0.5}]},"mark":{"type":"text","angle":270,"color":"white","fontWeight":"bold","fontSize":30,"text":"ΔR","baseline":"middle","align":"center"},"encoding":{"x":{"field":"T","type":"quantitative"},"y":{"field":"v","type":"quantitative"}}},
{"data":{"values":[{"T":70.4,"v":0.274}]},"mark":{"type":"text","angle":270,"color":"white","fontWeight":"bold","fontSize":28,"text":"R","baseline":"middle","align":"center"},"encoding":{"x":{"field":"T","type":"quantitative"},"y":{"field":"v","type":"quantitative"}}},
{"data":{"values":[{"T":71.3,"v":0.58}]},"mark":{"type":"text","angle":270,"color":"white","fontWeight":"bold","fontSize":20,"text":"MAX","baseline":"middle","align":"center"},"encoding":{"x":{"field":"T","type":"quantitative"},"y":{"field":"v","type":"quantitative"}}},
{"data":{"values":[{"T":68.6,"v":0.19,"w":0.825}]},"mark":{"type":"rule","color":"white","strokeWidth":2},"encoding":{"x":{"field":"T","type":"quantitative"},"y":{"field":"v","type":"quantitative"},"y2":{"field":"w"}}}
]}
]},
{"width":466,"height":416,"view":{"fill":"#0000a8","stroke":"#333333"},
"resolve":{"scale":{"x":"independent","y":"independent"},"axis":{"x":"independent","y":"independent"}},
"layer":[
{"layer":[
{"data":{"name":"coarseB"},"mark":{"type":"rect","width":14,"height":53,"clip":true},
"encoding":{"x":{"field":"t","type":"quantitative","scale":{"domain":[-1.74,12],"nice":false,"zero":false},"axis":{"values":[0,2,4,6,8,10,12],"title":"time delay (ps)","labelFontSize":27,"titleFontSize":35.5,"labelColor":"#222222","titleColor":"#222222","tickSize":4,"labelPadding":4,"titlePadding":6,"domain":false,"labelFlush":false}},
"y":{"field":"T","type":"quantitative","scale":{"domain":[80.5,108.5],"nice":false,"zero":false},"axis":{"values":[85,90,95,100,105],"title":null,"labels":false,"tickSize":4,"domain":false}},
"color":{"field":"v","type":"quantitative","legend":null,"scale":{"domain":[-0.03,0.04,0.11,0.18,0.25],"range":["#00004d","#0000ff","#ffffff","#ff0000","#800000"],"interpolate":"rgb"}}}},
{"data":{"name":"fineB"},"mark":{"type":"rect","width":7.5,"height":15.5,"clip":true},
"encoding":{"x":{"field":"t","type":"quantitative"},"y":{"field":"T","type":"quantitative"},"color":{"field":"v","type":"quantitative","legend":null,"scale":{"domain":[-0.03,0.04,0.11,0.18,0.25],"range":["#00004d","#0000ff","#ffffff","#ff0000","#800000"],"interpolate":"rgb"}}}},
{"data":{"values":[{"T":97.1}]},"mark":{"type":"rule","color":"white","strokeWidth":4,"strokeDash":[14,8]},"encoding":{"y":{"field":"T","type":"quantitative"}}},
{"data":{"values":[{"t":-0.94,"T":107.25,"label":"b"},{"t":8.6,"T":106.65,"label":"170 meV"}]},"mark":{"type":"text","color":"white","fontWeight":"bold","fontSize":35},"encoding":{"x":{"field":"t","type":"quantitative"},"y":{"field":"T","type":"quantitative"},"text":{"field":"label"}}}
]},
{"layer":[
{"data":{"values":[{"x0":80.2,"x1":109.66,"y0":-0.39,"y1":1.143}]},"mark":{"type":"rect","color":"white"},"encoding":{
"x":{"field":"x0","type":"quantitative","scale":{"domain":[80,109.66],"range":[202.3,460],"nice":false,"zero":false},"axis":{"values":[80,90,100],"orient":"bottom","offset":-62,"zindex":1,"domain":false,"ticks":false,"labelFontSize":23,"labelColor":"#e6e6f5","labelPadding":10,"title":"T (K)","titleColor":"white","titleFontSize":28,"titleFontWeight":"bold","titleAnchor":"end","titlePadding":4,"labelFlush":false}},"x2":{"field":"x1"},
"y":{"field":"y0","type":"quantitative","scale":{"domain":[-0.39,1.143],"range":[354,179],"nice":false,"zero":false},"axis":{"values":[0,0.5,1],"format":".1f","orient":"left","offset":-204,"zindex":1,"domain":false,"ticks":false,"labelFontSize":23,"labelColor":"#e6e6f5","labelPadding":11,"title":null}},"y2":{"field":"y1"}}},
{"data":{"name":"curveB"},"mark":{"type":"area","color":"#fdf5a8","interpolate":"monotone"},"encoding":{"x":{"field":"T","type":"quantitative"},"y":{"field":"Cu-Cu","type":"quantitative"},"y2":{"field":"Cu-O"}}},
{"data":{"name":"curveB"},"transform":[{"fold":["Cu-Cu","Cu-O"],"as":["s","v"]}],"mark":{"type":"line","strokeWidth":3.5,"interpolate":"monotone"},"encoding":{"x":{"field":"T","type":"quantitative"},"y":{"field":"v","type":"quantitative"},"stroke":{"field":"s","type":"nominal","scale":{"domain":["Cu-Cu","Cu-O"],"range":["#f5a623","#1a8a1a"]},"legend":{"title":null,"orient":"none","legendX":211,"legendY":273,"padding":0,"symbolSize":2401,"symbolStrokeWidth":3.5,"labelFontSize":23,"labelColor":"#222222","labelOffset":19,"rowPadding":-2}}}},
{"data":{"values":[{"T":97.2,"a":-0.39,"b":1.143}]},"mark":{"type":"rule","color":"#777777","strokeWidth":1.5,"strokeDash":[5,3]},"encoding":{"x":{"field":"T","type":"quantitative"},"y":{"field":"a","type":"quantitative"},"y2":{"field":"b"}}},
{"data":{"values":[{"T":67.6,"v":0.345}]},"mark":{"type":"text","angle":270,"color":"white","fontWeight":"bold","fontSize":30,"text":"ΔR","baseline":"middle","align":"center"},"encoding":{"x":{"field":"T","type":"quantitative"},"y":{"field":"v","type":"quantitative"}}},
{"data":{"values":[{"T":71.1,"v":0.125}]},"mark":{"type":"text","angle":270,"color":"white","fontWeight":"bold","fontSize":28,"text":"R","baseline":"middle","align":"center"},"encoding":{"x":{"field":"T","type":"quantitative"},"y":{"field":"v","type":"quantitative"}}},
{"data":{"values":[{"T":72.1,"v":0.45}]},"mark":{"type":"text","angle":270,"color":"white","fontWeight":"bold","fontSize":20,"text":"MAX","baseline":"middle","align":"center"},"encoding":{"x":{"field":"T","type":"quantitative"},"y":{"field":"v","type":"quantitative"}}},
{"data":{"values":[{"T":69.8,"v":0.029,"w":0.704}]},"mark":{"type":"rule","color":"white","strokeWidth":2},"encoding":{"x":{"field":"T","type":"quantitative"},"y":{"field":"v","type":"quantitative"},"y2":{"field":"w"}}}
]}
]},
{"width":26,"height":416,
"layer":[
{"data":{"name":"bar"},"mark":{"type":"rect","height":8.5,"clip":true,"width":23},"encoding":{"x":{"datum":0.5,"type":"quantitative","scale":{"domain":[0,1],"range":[3,26]},"axis":null},
"y":{"field":"v","type":"quantitative","scale":{"domain":[-0.0304,0.2507],"nice":false,"zero":false},"axis":{"orient":"right","values":[0,0.05,0.1,0.15,0.2,0.25],"format":".2f","labelFontSize":27,"labelColor":"#222222","tickSize":5,"domain":false,"labelPadding":3,"title":null,"labelFlush":false}},
"color":{"field":"v","type":"quantitative","legend":null,"scale":{"domain":[-0.03,0.04,0.11,0.18,0.25],"range":["#00004d","#0000ff","#ffffff","#ff0000","#800000"],"interpolate":"rgb"}}}},
{"data":{"values":[{"x":5.35,"v":0.0208,"label":"ΔR"},{"x":5.35,"v":0.14,"label":"ΔR"},{"x":7.25,"v":0.0896,"label":"ΔR"}]},"mark":{"type":"text","angle":270,"fontSize":30,"color":"#222222","baseline":"middle","align":"center"},"encoding":{"x":{"field":"x","type":"quantitative"},"y":{"field":"v","type":"quantitative"},"text":{"field":"label"}}},
{"data":{"values":[{"x":5.7,"v":0.066,"label":"Cu − Cu"},{"x":5.7,"v":0.182,"label":"Cu − O"}]},"mark":{"type":"text","angle":270,"fontSize":24,"fontStyle":"italic","color":"#222222","baseline":"middle","align":"center"},"encoding":{"x":{"field":"x","type":"quantitative"},"y":{"field":"v","type":"quantitative"},"text":{"field":"label"}}},
{"data":{"values":[{"x":5.45,"v":0.1098,"label":"−"}]},"mark":{"type":"text","angle":270,"fontSize":30,"color":"#222222","baseline":"middle","align":"center"},"encoding":{"x":{"field":"x","type":"quantitative"},"y":{"field":"v","type":"quantitative"},"text":{"field":"label"}}},
{"data":{"values":[{"x":7.65,"v":0.1206,"label":"80K"}]},"mark":{"type":"text","angle":270,"fontSize":25,"color":"#222222","baseline":"middle","align":"center"},"encoding":{"x":{"field":"x","type":"quantitative"},"y":{"field":"v","type":"quantitative"},"text":{"field":"label"}}},
{"data":{"values":[{"x":6.52,"v":0.0066,"w":0.2109}]},"mark":{"type":"rule","color":"#222222","strokeWidth":2},"encoding":{"x":{"field":"x","type":"quantitative"},"y":{"field":"v","type":"quantitative"},"y2":{"field":"w"}}}
]}
]}
